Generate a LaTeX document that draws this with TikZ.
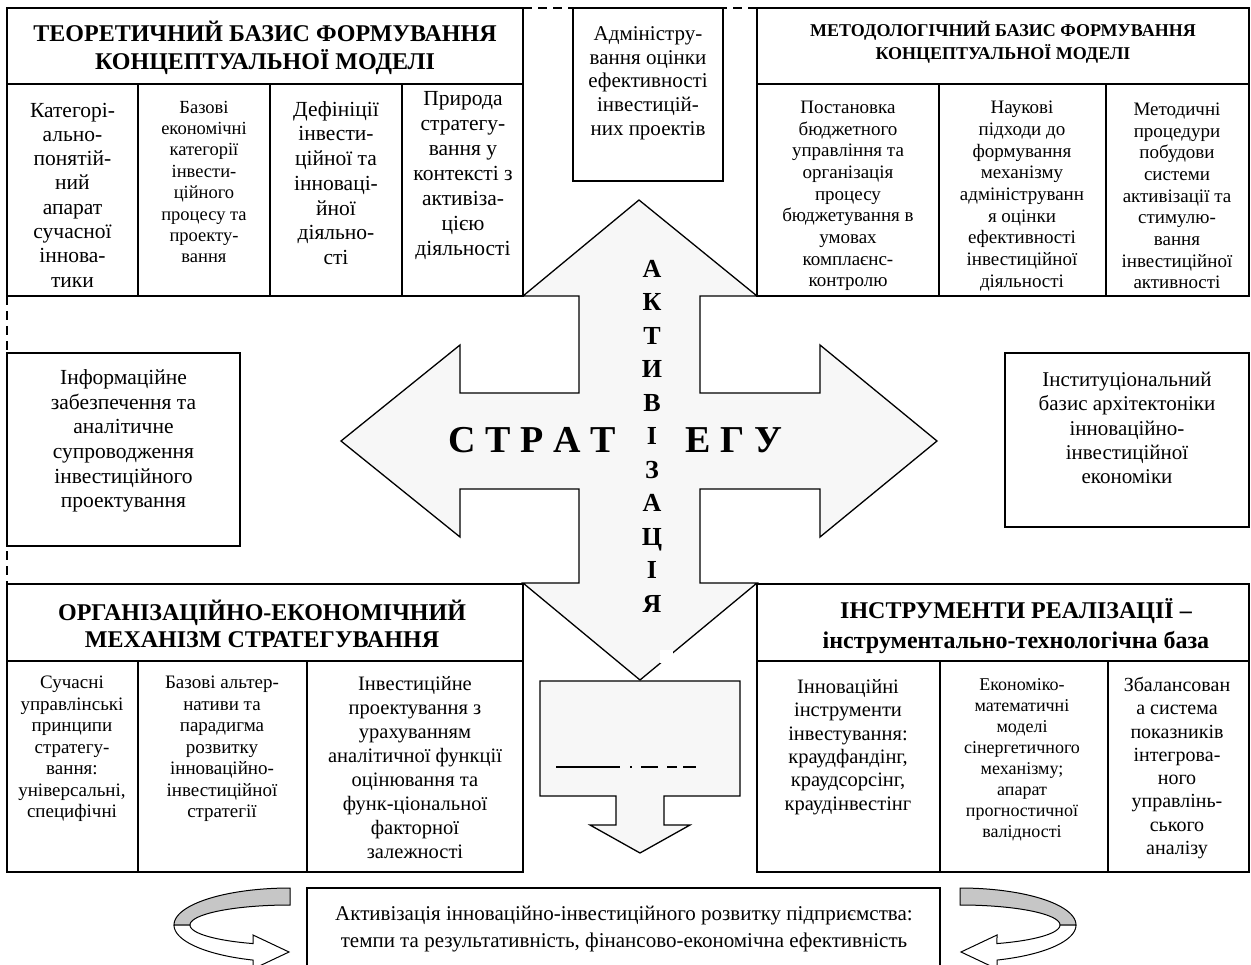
\documentclass[tikz,border=0pt]{standalone}
\usepackage{fontspec}
\setmainfont{Liberation Serif}
\newcommand{\myfs}[2]{\fontsize{#1}{#2}\selectfont}
\definecolor{crossgray}{RGB}{247,247,247}
\definecolor{arrgray}{RGB}{198,198,198}
\tikzset{
  box/.style={draw, line width=1.7pt},
  crossline/.style={draw, line width=1.3pt, line join=miter},
  txt/.style={align=center, inner sep=0pt},
  dashline/.style={line width=1.3pt, dash pattern=on 9pt off 6pt},
}
\begin{document}
\begin{tikzpicture}[x=1pt,y=-1pt]
\useasboundingbox (0,0) rectangle (1251,965);
\clip (0,0) rectangle (1251,965);
\fill[white] (0,0) rectangle (1251,965);

% dashed guide lines
\draw[dashline] (523,8) -- (757,8);
\draw[dashline] (7,296) -- (7,584);

% central cross of arrows
\filldraw[fill=crossgray, crossline]
  (523,296) -- (579,296) -- (579,393) -- (460,393) -- (460,345) -- (341,441)
  -- (460,537) -- (460,489) -- (579,489) -- (579,583) -- (523,583) -- (640,680)
  -- (757,583) -- (700,583) -- (700,489) -- (820,489) -- (820,537) -- (937,441)
  -- (820,345) -- (820,393) -- (700,393) -- (700,296) -- (757,296) -- (639,200) -- cycle;
\fill[white] (660,650) rectangle (673,663);

% lower output arrow
\filldraw[fill=crossgray, crossline]
  (540,681) -- (740,681) -- (740,796) -- (664,796) -- (664,825) -- (690,825)
  -- (640,853) -- (590,825) -- (616,825) -- (616,796) -- (540,796) -- cycle;
\draw[line width=1.5pt] (556,767) -- (620,767) (630,767) -- (632,767) (641,767) -- (658,767)
  (667,767) -- (677,767) (683,767) -- (696,767);

% top-left block
\draw[box] (7,8) rectangle (523,296);
\draw[box] (7,84) -- (523,84);
\draw[box] (138,84) -- (138,296) (270,84) -- (270,296) (402,84) -- (402,296);
% admin box
\draw[box] (573,8) rectangle (723,181);
% top-right block
\draw[box] (757,8) rectangle (1249,296);
\draw[box] (757,84) -- (1249,84);
\draw[box] (939,84) -- (939,296) (1106,84) -- (1106,296);
% side boxes
\draw[box] (7,353) rectangle (240,546);
\draw[box] (1005,353) rectangle (1249,527);
% bottom-left block
\draw[box] (7,584) rectangle (523,872);
\draw[box] (7,661) -- (523,661);
\draw[box] (138,661) -- (138,872) (307,661) -- (307,872);
% bottom-right block
\draw[box] (757,584) rectangle (1249,872);
\draw[box] (757,661) -- (1249,661);
\draw[box] (940,661) -- (940,872) (1108,661) -- (1108,872);
% result box
\draw[box] (307,888) rectangle (940,990);

% curved arrows
\filldraw[fill=arrgray, line width=1pt]
  plot[domain=270:180, samples=40, variable=\t] ({290+116*cos(\t)},{925+37*sin(\t)})
  -- plot[domain=180:270, samples=40, variable=\t] ({290+100*cos(\t)},{925+20*sin(\t)}) -- cycle;
\filldraw[fill=white, line width=1pt]
  plot[domain=180:108.6, samples=40, variable=\t] ({290+116*cos(\t)},{925+37*sin(\t)})
  -- (253,969) -- (289,952) -- (253,935)
  -- plot[domain=111.7:180, samples=40, variable=\t] ({290+100*cos(\t)},{925+20*sin(\t)}) -- cycle;
\begin{scope}[xshift=1250pt, xscale=-1]
\filldraw[fill=arrgray, line width=1pt]
  plot[domain=270:180, samples=40, variable=\t] ({290+116*cos(\t)},{925+37*sin(\t)})
  -- plot[domain=180:270, samples=40, variable=\t] ({290+100*cos(\t)},{925+20*sin(\t)}) -- cycle;
\filldraw[fill=white, line width=1pt]
  plot[domain=180:108.6, samples=40, variable=\t] ({290+116*cos(\t)},{925+37*sin(\t)})
  -- (253,969) -- (289,952) -- (253,935)
  -- plot[domain=111.7:180, samples=40, variable=\t] ({290+100*cos(\t)},{925+20*sin(\t)}) -- cycle;
\end{scope}

% texts
\node[txt, font=\bfseries\myfs{24}{28}] (tlT) at (265,48) {ТЕОРЕТИЧНИЙ БАЗИС ФОРМУВАННЯ\\КОНЦЕПТУАЛЬНОЇ МОДЕЛІ};
\node[txt, font=\myfs{21.5}{24.3}] (tl1) at (72.5,195) {Категорі-\\ально-\\понятій-\\ний\\апарат\\сучасної\\іннова-\\тики};
\node[txt, font=\myfs{18.5}{21.4}] (tl2) at (204,182) {Базові\\економічні\\категорії\\інвести-\\ційного\\процесу та\\проекту-\\вання};
\node[txt, font=\myfs{21.5}{24.7}] (tl3) at (336,183) {Дефініції\\інвести-\\ційної та\\інноваці-\\йної\\діяльно-\\сті};
\node[txt, font=\myfs{21.5}{25}] (tl4) at (463,176) {Природа\\стратегу-\\вання у\\контексті з\\активіза-\\цією\\діяльності};

\node[txt, font=\myfs{21}{23.7}] (adm) at (648,83) {Адміністру-\\вання оцінки\\ефективності\\інвестицій-\\них проектів};

\node[txt, font=\bfseries\myfs{18}{23}] (trT) at (1003,42) {МЕТОДОЛОГІЧНИЙ БАЗИС ФОРМУВАННЯ\\КОНЦЕПТУАЛЬНОЇ МОДЕЛІ};
\node[txt, font=\myfs{19}{21.7}] (tr1) at (848,196) {Постановка\\бюджетного\\управління та\\організація\\процесу\\бюджетування в\\умовах\\комплаєнс-\\контролю};
\node[txt, font=\myfs{19}{21.7}] (tr2) at (1022,196) {Наукові\\підходи до\\формування\\механізму\\адмініструванн\\я оцінки\\ефективності\\інвестиційної\\діяльності};
\node[txt, font=\myfs{19}{21.7}] (tr3) at (1177,196) {Методичні\\процедури\\побудови\\системи\\активізації та\\стимулю-\\вання\\інвестиційної\\активності};

\node[txt, font=\myfs{21.5}{24.7}] (info) at (123.5,441) {Інформаційне\\забезпечення та\\аналітичне\\супроводження\\інвестиційного\\проектування};
\node[txt, font=\myfs{21}{24.3}] (inst) at (1127,428) {Інституціональний\\базис архітектоніки\\інноваційно-\\інвестиційної\\економіки};

\node[txt, font=\bfseries\myfs{38}{40}] (strat) at (532,440) {С Т Р А Т};
\node[txt, font=\bfseries\myfs{38}{40}] (egu) at (734,440) {Е Г У};
\node[txt, font=\bfseries\myfs{26}{33.5}] (akt) at (652,436) {А\\К\\Т\\И\\В\\І\\З\\А\\Ц\\І\\Я};

\node[txt, font=\bfseries\myfs{24}{27}] (blT) at (262,624) {ОРГАНІЗАЦІЙНО-ЕКОНОМІЧНИЙ\\МЕХАНІЗМ СТРАТЕГУВАННЯ};
\node[txt, font=\myfs{19}{21.5}] (bl1) at (72,749) {Сучасні\\управлінські\\принципи\\стратегу-\\вання:\\універсальні,\\специфічні};
\node[txt, font=\myfs{19}{21.5}] (bl2) at (222,749) {Базові альтер-\\нативи та\\парадигма\\розвитку\\інноваційно-\\інвестиційної\\стратегії};
\node[txt, font=\myfs{20.5}{24}] (bl3) at (415,768) {Інвестиційне\\проектування з\\урахуванням\\аналітичної функції\\оцінювання та\\функ-ціональної\\факторної\\залежності};

\node[txt, font=\bfseries\myfs{24}{30}] (brT) at (1016,626) {ІНСТРУМЕНТИ РЕАЛІЗАЦІЇ –\\інструментально-технологічна база};
\node[txt, font=\myfs{20.5}{23.3}] (br1) at (848,747) {Інноваційні\\інструменти\\інвестування:\\краудфандінг,\\краудсорсінг,\\краудінвестінг};
\node[txt, font=\myfs{18}{21}] (br2) at (1022,760) {Економіко-\\математичні\\моделі\\сінергетичного\\механізму;\\апарат\\прогностичної\\валідності};
\node[txt, font=\myfs{20}{23.3}] (br3) at (1177,768) {Збалансован\\а система\\показників\\інтегрова-\\ного\\управлінь-\\ського\\аналізу};

\node[txt, font=\myfs{21}{27}] (res) at (624,929) {Активізація інноваційно-інвестиційного розвитку підприємства:\\темпи та результативність, фінансово-економічна ефективність};
\end{tikzpicture}
\end{document}
